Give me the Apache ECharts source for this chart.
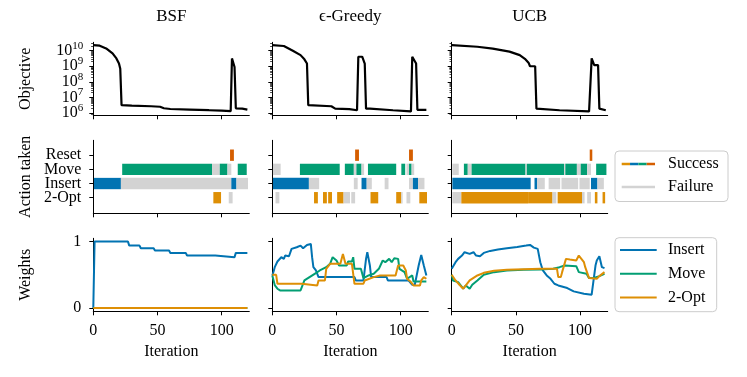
<!DOCTYPE html>
<html>
<head>
<meta charset="utf-8">
<script src="https://cdn.jsdelivr.net/npm/echarts@6.0.0/dist/echarts.min.js"></script>
<style>
  html, body { margin: 0; padding: 0; background: #fff; }
  #chart { width: 747px; height: 377px; }
</style>
</head>
<body>
<div id="chart"></div>
<script>
const methods = ['BSF', 'ϵ-Greedy', 'UCB'];
const actionNames = ['2-Opt', 'Insert', 'Move', 'Reset'];
const iterTicks = [0, 50, 100];
const objectiveExponents = [6, 7, 8, 9, 10];
const actionTicks = [0, 1, 2, 3];
const weightTicks = [0, 1];

// objective per method: [iteration, objective value]
const bsfObjective = [[0, 2.3e10], [5, 2.1e10], [10, 1.4e10], [15, 6.8e9], [18, 3.2e9], [20, 1.5e9], [21, 7e8],
  [22, 3.2e6], [30, 3.0e6], [45, 2.7e6], [52, 2.5e6], [55, 2.0e6], [60, 1.8e6], [75, 1.65e6], [90, 1.5e6],
  [100, 1.4e6], [107, 1.3e6], [108, 3.2e9], [109, 2.4e9], [110, 9e8], [111, 2.0e6], [116, 1.9e6], [120, 1.65e6]];
const egObjective = [[0, 2.3e10], [9, 2.0e10], [16, 1.0e10], [22, 5.2e9], [25, 2.8e9], [27, 1.5e9], [28, 3.2e6],
  [46, 2.7e6], [49, 1.9e6], [60, 1.75e6], [66, 1.5e6], [67, 4.1e9], [70, 4.1e9], [72, 1.5e9], [73, 1.9e6],
  [76, 1.9e6], [94, 1.5e6], [108, 1.26e6], [109, 4.1e9], [110, 4.0e9], [112, 1.5e9], [113, 1.6e6], [120, 1.6e6]];
const ucbObjective = [[0, 2.3e10], [20, 1.8e10], [32, 1.35e10], [45, 8.7e9], [53, 5.2e9], [57, 3.0e9], [60, 1.6e9],
  [61, 1.0e9], [65, 1.0e9], [66, 1.9e6], [84, 1.5e6], [107, 1.26e6], [108, 1.3e6], [109, 3.2e9], [111, 1.2e9],
  [114, 1.2e9], [115, 1.9e6], [120, 1.5e6]];

// actions taken: [first iteration, last iteration, success (1) / failure (0)]
const bsfReset = [[107, 109, 1]];
const bsfMove = [[23, 92, 1], [93, 98, 0], [99, 104, 1], [105, 107, 0], [113, 119, 1]];
const bsfInsert = [[1, 21, 1], [22, 107, 0], [108, 111, 1], [112, 120, 0]];
const bsfOpt = [[94, 99, 1], [106, 108, 0]];

const egReset = [[65, 67, 1], [107, 109, 1]];
const egMove = [[1, 6, 0], [22, 52, 1], [57, 63, 1], [64, 65, 0], [66, 69, 1], [70, 71, 0], [75, 96, 1],
  [101, 103, 1], [105, 106, 0], [107, 108, 1], [109, 110, 0]];
const egInsert = [[1, 28, 1], [29, 36, 0], [64, 66, 0], [70, 73, 1], [74, 77, 0], [88, 90, 0], [107, 109, 0],
  [110, 113, 1], [114, 118, 0]];
const egOpt = [[3, 5, 0], [33, 35, 1], [40, 42, 1], [44, 46, 1], [51, 55, 1], [56, 60, 0], [62, 64, 0],
  [77, 82, 1], [97, 100, 1], [101, 101, 0], [105, 107, 0], [115, 120, 1]];

const ucbReset = [[108, 109, 1]];
const ucbMove = [[1, 5, 0], [10, 12, 1], [13, 15, 0], [16, 57, 1], [58, 58, 0], [59, 87, 1], [88, 88, 0],
  [89, 97, 1], [98, 100, 0], [101, 105, 1], [106, 108, 0], [113, 120, 1]];
const ucbInsert = [[1, 61, 1], [65, 66, 1], [67, 72, 0], [76, 84, 0], [86, 98, 0], [100, 107, 0],
  [109, 113, 1], [114, 118, 0]];
const ucbOpt = [[1, 7, 0], [8, 59, 1], [60, 78, 1], [79, 81, 0], [83, 101, 1], [102, 103, 0], [106, 108, 0],
  [112, 113, 1], [118, 119, 1]];

// weights: [iteration, weight]
const bsfWInsert = [[0, 0], [1, 1], [27, 1], [28, 0.94], [36, 0.94], [37, 0.9], [47, 0.9], [48, 0.865],
  [59, 0.865], [60, 0.83], [72, 0.83], [73, 0.79], [95, 0.79], [96, 0.765], [110, 0.765], [111, 0.83], [120, 0.83]];
const bsfWMove = [[0, 0], [120, 0]];
const bsfWOpt = [[0, 0], [120, 0]];

const egWInsert = [[0, 0.49], [1, 0.55], [2, 0.62], [4, 0.7], [7, 0.765], [9, 0.74], [10, 0.79], [13, 0.78],
  [15, 0.89], [19, 0.915], [22, 0.94], [24, 0.9], [27, 0.95], [30, 0.965], [31, 0.765], [32, 0.615], [34, 0.565],
  [36, 0.465], [64, 0.465], [65, 0.415], [71, 0.415], [73, 0.74], [74, 0.84], [76, 0.64], [77, 0.465],
  [89, 0.465], [90, 0.415], [106, 0.415], [107, 0.39], [109, 0.35], [111, 0.35], [114, 0.64], [116, 0.8],
  [118, 0.64], [120, 0.49]];
const egWMove = [[0, 0.49], [2, 0.34], [4, 0.29], [6, 0.265], [22, 0.265], [23, 0.315], [25, 0.415],
  [29, 0.465], [33, 0.515], [37, 0.565], [42, 0.615], [45, 0.665], [47, 0.765], [50, 0.715], [52, 0.64],
  [58, 0.64], [59, 0.7], [62, 0.7], [63, 0.765], [64, 0.59], [69, 0.59], [71, 0.45], [75, 0.49], [79, 0.515],
  [83, 0.59], [86, 0.715], [88, 0.69], [91, 0.74], [93, 0.69], [95, 0.75], [98, 0.74], [99, 0.59], [103, 0.54],
  [105, 0.44], [109, 0.49], [110, 0.4], [120, 0.4]];
const egWOpt = [[0, 0.5], [3, 0.5], [4, 0.365], [23, 0.365], [24, 0.34], [35, 0.34], [36, 0.415], [41, 0.415],
  [42, 0.59], [45, 0.665], [53, 0.665], [55, 0.815], [57, 0.665], [62, 0.665], [64, 0.365], [71, 0.365],
  [72, 0.415], [79, 0.465], [84, 0.49], [96, 0.49], [98, 0.64], [102, 0.64], [104, 0.565], [105, 0.44],
  [108, 0.39], [110, 0.34], [115, 0.34], [116, 0.415], [118, 0.465], [120, 0.44]];

const ucbWInsert = [[0, 0.59], [3, 0.69], [5, 0.74], [8, 0.79], [10, 0.84], [14, 0.815], [17, 0.84], [19, 0.79],
  [22, 0.78], [25, 0.83], [30, 0.86], [36, 0.88], [43, 0.9], [51, 0.92], [58, 0.94], [61, 0.95], [64, 0.91],
  [67, 0.89], [69, 0.69], [71, 0.565], [74, 0.49], [77, 0.44], [80, 0.365], [83, 0.34], [90, 0.3], [95, 0.25],
  [103, 0.215], [109, 0.2], [110, 0.215], [112, 0.64], [113, 0.715], [115, 0.78], [117, 0.615], [119, 0.6]];
const ucbWMove = [[0, 0.5], [1, 0.415], [5, 0.39], [9, 0.29], [11, 0.34], [14, 0.29], [16, 0.35], [20, 0.415],
  [25, 0.5], [33, 0.54], [43, 0.565], [56, 0.575], [69, 0.58], [79, 0.59], [84, 0.615], [88, 0.64], [97, 0.63],
  [99, 0.54], [105, 0.515], [107, 0.45], [110, 0.45], [115, 0.48], [119, 0.515]];
const ucbWOpt = [[0, 0.5], [3, 0.415], [6, 0.35], [9, 0.29], [11, 0.34], [14, 0.415], [20, 0.49], [25, 0.53],
  [33, 0.56], [43, 0.575], [69, 0.59], [82, 0.59], [83, 0.465], [85, 0.465], [86, 0.54], [87, 0.565], [89, 0.74],
  [92, 0.73], [93, 0.7], [97, 0.715], [99, 0.79], [101, 0.74], [103, 0.69], [104, 0.615], [107, 0.45],
  [113, 0.44], [115, 0.48], [119, 0.54]];

const objectives = [bsfObjective, egObjective, ucbObjective];
const actions = [
  [bsfOpt, bsfInsert, bsfMove, bsfReset],
  [egOpt, egInsert, egMove, egReset],
  [ucbOpt, ucbInsert, ucbMove, ucbReset]
];
const weights = [
  [bsfWInsert, bsfWMove, bsfWOpt],
  [egWInsert, egWMove, egWOpt],
  [ucbWInsert, ucbWMove, ucbWOpt]
];

const FONT = 'Liberation Serif';
const BLUE = '#0173B2', GREEN = '#029E73', ORANGE = '#DE8F05', RED = '#D55E00', GREY = '#D3D3D3';
const successColors = [ORANGE, BLUE, GREEN, RED];
const weightNames = ['Insert', 'Move', '2-Opt'];
const weightColors = [BLUE, GREEN, ORANGE];

const colLeft = [93.3, 272.3, 451.7];
const colWidth = 156;
const rowTop = [42.3, 140.3, 238.3];
const rowHeight = 73;
const xMax = 121.5;
const yRanges = [[5.85, 10.54], [-1.1, 4.05], [-0.05, 1.05]];
const yNames = ['Objective', 'Action taken', 'Weights'];
const yMargins = [10, 12, 12];
const supRaise = 0.32; // superscript lift, in decades

const minorTicks = [];
for (let e = 5; e <= 10; e++) {
  for (let k = 2; k <= 9; k++) {
    const v = e + Math.log10(k);
    if (v > yRanges[0][0] && v < yRanges[0][1]) minorTicks.push(v);
  }
}

const labelStyle = { fontFamily: FONT, fontSize: 16, color: '#000' };
const nameStyle = { fontFamily: FONT, fontSize: 16, color: '#000' };
const black = { color: '#000', width: 1 };

function yLabel(r, values) {
  const lab = { show: true, customValues: values, margin: yMargins[r], showMinLabel: true, showMaxLabel: true,
    hideOverlap: false, ...labelStyle };
  if (r === 0) {
    // "10" followed by an invisible exponent; the visible exponent comes from a shifted axis
    lab.formatter = v => '{b|10}{h|' + v + '}';
    lab.rich = {
      b: { fontFamily: FONT, fontSize: 16, lineHeight: 12, color: '#000' },
      h: { fontFamily: FONT, fontSize: 11, lineHeight: 12, color: 'rgba(0,0,0,0)' }
    };
  } else if (r === 1) {
    lab.formatter = v => actionNames[v];
  }
  return lab;
}

const grid = [], xAxis = [], yAxis = [], series = [];

for (let r = 0; r < 3; r++) {
  for (let c = 0; c < 3; c++) {
    const i = r * 3 + c;
    grid.push({ left: colLeft[c], top: rowTop[r], width: colWidth, height: rowHeight });
    xAxis.push({
      gridIndex: i, type: 'value', min: 0, max: xMax, position: 'bottom',
      axisLine: { show: true, onZero: false, lineStyle: black },
      axisTick: { show: true, customValues: iterTicks, length: 4, lineStyle: black },
      axisLabel: { show: r === 2, customValues: iterTicks, margin: 11, showMinLabel: true, showMaxLabel: true, ...labelStyle },
      splitLine: { show: false },
      name: r === 2 ? 'Iteration' : '', nameLocation: 'middle', nameGap: 32, nameTextStyle: nameStyle
    });
    const ticks = [objectiveExponents, actionTicks, weightTicks][r];
    const shown = r === 2 ? ticks : ticks.filter((_, k) => k % 2 === 0);
    const axisLabel = c === 0 ? yLabel(r, shown) : { show: false };
    yAxis.push({
      gridIndex: i, type: 'value', min: yRanges[r][0], max: yRanges[r][1], position: 'left',
      axisLine: { show: true, onZero: false, lineStyle: black },
      axisTick: { show: true, customValues: ticks, length: 4, lineStyle: black },
      axisLabel,
      splitLine: { show: false },
      name: c === 0 ? yNames[r] : '', nameLocation: 'middle', nameGap: 60, nameRotate: 90,
      nameTextStyle: nameStyle
    });
  }
}

// minor log ticks for the objective row (yAxis 9..11)
for (let c = 0; c < 3; c++) {
  yAxis.push({
    gridIndex: c, type: 'value', min: yRanges[0][0], max: yRanges[0][1], position: 'left',
    axisLine: { show: false },
    axisTick: { show: true, customValues: minorTicks, length: 2.2, lineStyle: { color: '#000', width: 0.7 } },
    axisLabel: { show: false },
    splitLine: { show: false }
  });
}

// odd-indexed tick labels of the first column, on label-only axes so none get dropped
[objectiveExponents, actionTicks].forEach((ticks, r) => {
  yAxis.push({
    gridIndex: r * 3, type: 'value', min: yRanges[r][0], max: yRanges[r][1], position: 'left',
    axisLine: { show: false }, axisTick: { show: false }, splitLine: { show: false },
    axisLabel: yLabel(r, ticks.filter((_, k) => k % 2 === 1))
  });
});

// superscript exponents of the objective labels
yAxis.push({
  gridIndex: 0, type: 'value', min: yRanges[0][0], max: yRanges[0][1], position: 'left',
  axisLine: { show: false }, axisTick: { show: false }, splitLine: { show: false },
  axisLabel: {
    customValues: objectiveExponents.map(e => e + supRaise),
    formatter: v => String(Math.round(v - supRaise)),
    margin: yMargins[0], showMinLabel: true, showMaxLabel: true, hideOverlap: false,
    fontFamily: FONT, fontSize: 11, lineHeight: 10, color: '#000'
  }
});

for (let c = 0; c < 3; c++) {
  series.push({
    type: 'line', xAxisIndex: c, yAxisIndex: c,
    data: objectives[c].map(([x, v]) => [x, Math.log10(v)]),
    symbol: 'none', lineStyle: { color: '#000', width: 2.2 }, z: 3
  });

  const items = [];
  actions[c].forEach((segs, row) => {
    segs.forEach(([a, b, ok]) => items.push([a, b, row, ok]));
  });
  series.push({
    type: 'custom', xAxisIndex: 3 + c, yAxisIndex: 3 + c,
    data: items,
    encode: { x: [0, 1], y: 2 },
    renderItem: (params, api) => {
      const row = api.value(2);
      const p0 = api.coord([api.value(0) - 0.5, row]);
      const p1 = api.coord([api.value(1) + 0.5, row]);
      const h = api.size([0, 0.8])[1];
      return {
        type: 'rect',
        shape: { x: p0[0], y: p0[1] - h / 2, width: p1[0] - p0[0], height: h },
        style: { fill: api.value(3) ? successColors[row] : GREY }
      };
    }
  });

  weights[c].forEach((w, k) => {
    series.push({
      type: 'line', name: weightNames[k], xAxisIndex: 6 + c, yAxisIndex: 6 + c,
      data: w, symbol: 'none', lineStyle: { color: weightColors[k], width: 2 }
    });
  });
}

const graphic = [];
methods.forEach((m, c) => {
  graphic.push({
    type: 'text', x: colLeft[c] + colWidth / 2, y: 17,
    style: { text: m, font: '17px "' + FONT + '"', fill: '#000', align: 'center', verticalAlign: 'middle',
      textAlign: 'center', textVerticalAlign: 'middle' }
  });
});

function legendText(x, y, t) {
  return {
    type: 'text', x, y,
    style: { text: t, font: '16px "' + FONT + '"', fill: '#000', align: 'left', verticalAlign: 'middle',
      textAlign: 'left', textVerticalAlign: 'middle' }
  };
}
function legendLine(x1, x2, y, color, w) {
  return { type: 'line', shape: { x1, y1: y, x2, y2: y }, style: { stroke: color, lineWidth: w } };
}

// action legend
graphic.push({ type: 'rect', shape: { x: 615, y: 151, width: 113, height: 50.5, r: 4 },
  style: { fill: '#fff', stroke: '#cccccc', lineWidth: 1 } });
successColors.forEach((col, k) => {
  graphic.push(legendLine(621.7 + k * 8.33, 621.7 + (k + 1) * 8.33, 164, col, 2.5));
});
graphic.push(legendLine(621.7, 655, 187, GREY, 2.5));
graphic.push(legendText(668, 164, 'Success'));
graphic.push(legendText(668, 187, 'Failure'));

// weights legend
graphic.push({ type: 'rect', shape: { x: 615, y: 237.7, width: 101.7, height: 74, r: 4 },
  style: { fill: '#fff', stroke: '#cccccc', lineWidth: 1 } });
weightNames.forEach((n, k) => {
  const y = 250 + k * 23.8;
  graphic.push(legendLine(620, 656.7, y, weightColors[k], 2));
  graphic.push(legendText(668, y, n));
});

const chart = echarts.init(document.getElementById('chart'), null, { renderer: 'canvas' });
chart.setOption({
  animation: false,
  backgroundColor: '#fff',
  grid, xAxis, yAxis, series, graphic
});
</script>
</body>
</html>
